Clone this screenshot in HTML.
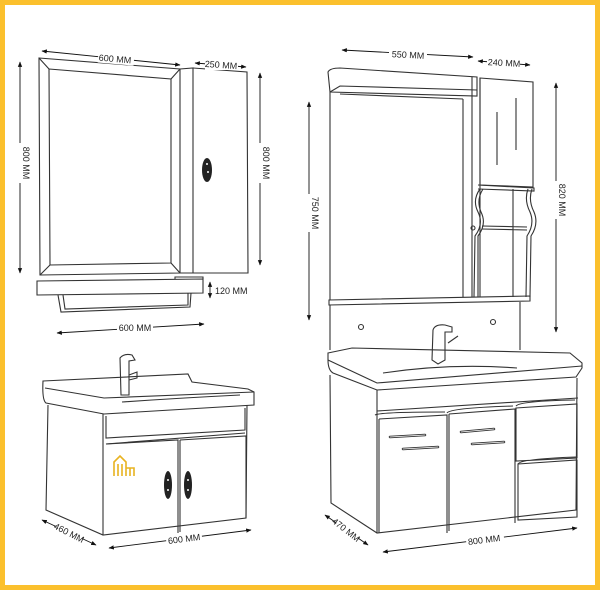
<!DOCTYPE html>
<html><head><meta charset="utf-8"><style>
html,body{margin:0;padding:0;background:#fff;}
svg{display:block;}
text{font-family:"Liberation Sans",sans-serif;font-size:9px;fill:#222;}
</style></head><body>
<svg width="600" height="590" viewBox="0 0 600 590" xmlns="http://www.w3.org/2000/svg">
<defs>
<marker id="a" viewBox="0 0 10 10" refX="9" refY="5" markerWidth="6" markerHeight="6" orient="auto-start-reverse"><path d="M0,1 L10,5 L0,9z" fill="#111"/></marker>
</defs>
<rect x="0" y="0" width="600" height="590" fill="#fbc02d"/>
<rect x="5" y="5" width="590" height="580" fill="#fff"/>
<g fill="none" stroke="#333" stroke-width="1.1">
<path d="M39,58 L180,69 L180,273 L40,275 Z"/>
<path d="M49,69 L171,79 L171,263 L50,265 Z"/>
<path d="M39,58 L49,69 M180,69 L171,79 M40,275 L50,265 M180,273 L171,263"/>
<path d="M180,69 L193,68 L193,273 L180,273"/>
<path d="M193,68 L247,72 L248,273 L193,273"/>
<path d="M37,281 L203,279 L203,293 L37,295 Z"/>
<path d="M175,279 L175,277 L203,277 L203,279"/>
<path d="M58,295 L61,312 L190,307 L191,293 M63,295 L65,309 L188,305 L188,293"/>
<path d="M328,72 Q330,68 340,68 L477,77 L477,96 L330,92 Z"/>
<path d="M330,92 L340,86 L477,90"/>
<path d="M330,92 L330,300 M463,99 L463,297 M340,94 L463,99"/>
<path d="M472,77 L472,297 M480,78 L480,297"/>
<path d="M480,78 L533,82 L533,187 L480,185 Z"/>
<path d="M478,185 L534,188 L534,191 L478,189"/>
<path d="M497,112 L497,165 M516,98 L516,150"/>
<path d="M480,189 Q472,200 478,212 Q484,224 475,236 L474,297 M483,189 Q476,200 481,212 Q487,224 478,236 L478,297"/>
<path d="M528,189 Q524,200 530,212 Q535,224 527,236 L526,297 M532,189 Q528,200 534,212 Q539,224 531,236 L530,297"/>
<path d="M513,189 L513,297 M482,226 L527,227 M482,229 L527,230"/>
<circle cx="473" cy="228" r="2"/>
<path d="M329,300 L530,296 L530,301 L329,305 Z"/>
<path d="M330,305 L330,350 M520,302 L520,350"/>
<circle cx="361" cy="327" r="2.5"/><circle cx="493" cy="322" r="2.5"/>
<path d="M433,330 Q435,324 445,325 L452,327 L452,332 L445,332 L445,360 L438,364 L432,360 Z M448,343 L458,336"/>
<path d="M328,353 L352,348 L570,353 L582,363 L582,368 L576,377 L377,390 L333,373 Q328,370 328,360 Z"/>
<path d="M328,360 L377,383 L582,366"/>
<path d="M383,373 Q450,363 517,368"/>
<path d="M330,375 L331,503 L377,533 L576,510 L577,378"/>
<path d="M377,390 L377,533"/>
<path d="M377,411 L578,398"/>
<path d="M379,419 L447,415 L447,533 M379,419 L379,533 M375,415 Q380,412 445,412"/>
<path d="M449,414 L515,409 L515,523 M449,414 L449,531 M447,413 Q450,408 513,406"/>
<path d="M516,408 L577,404 L577,458 L516,461 Z M518,464 L577,460 L577,517 L518,520 Z M516,406 Q520,401 575,400 M518,464 Q520,459 576,457"/>
<path d="M390,437 L425,435 M403,449 L438,447 M461,432 L494,429 M472,444 L504,442" stroke-width="2.5" stroke-linecap="round"/>
<path d="M390,437 L425,435 M403,449 L438,447 M461,432 L494,429 M472,444 L504,442" stroke="#fff" stroke-width="0.8" stroke-linecap="round"/>
<path d="M43,381 L188,374 L192,382 L248,389 L254,392 L254,405 L104,414 L46,403 Q42,400 43,381 Z"/>
<path d="M45,388 L104,398 L254,392"/>
<path d="M122,402 Q180,398 240,395"/>
<path d="M48,405 L46,510 L103,535 L246,518 L247,405"/>
<path d="M103,414 L103,535"/>
<path d="M106,416 L106,438 L245,430 L245,408 M106,444 L245,433"/>
<path d="M106,444 L178,440 L178,533 M178,440 L178,533 M180,440 L246,436 L246,518 M180,440 L180,532"/>
<path d="M120,358 Q124,353 132,355 L135,360 L129,361 L129,395 L121,395 Z M129,375 L137,372 L137,378 L129,380"/>
</g>
<g fill="#222">
<ellipse cx="207" cy="170" rx="5" ry="12"/>
<ellipse cx="168" cy="485" rx="4" ry="14"/>
<ellipse cx="188" cy="485" rx="4" ry="14"/>
</g>
<g fill="#fff"><circle cx="207" cy="164" r="1"/><circle cx="208" cy="172" r="1"/><circle cx="168" cy="480" r="1"/><circle cx="168" cy="490" r="1"/><circle cx="188" cy="480" r="1"/><circle cx="188" cy="490" r="1"/></g>
<g fill="none" stroke="#e8b321" stroke-width="1.6"><path d="M114,476 L114,462 L120,456 L126,462 L126,476 M118,476 L118,464 M122,476 L122,464 M126,468 L134,468 L134,476 M130,468 L130,476"/></g>
<g stroke="#111" stroke-width="0.9" fill="none" marker-start="url(#a)" marker-end="url(#a)">
<path d="M42,51 L180,65"/>
<path d="M195,63 L246,67"/>
<path d="M20,62 L20,273"/>
<path d="M260,73 L260,265"/>
<path d="M210,282 L210,298"/>
<path d="M57,333 L204,324"/>
<path d="M342,50 L473,57"/>
<path d="M478,61 L530,65"/>
<path d="M309,102 L309,320"/>
<path d="M556,83 L556,332"/>
<path d="M325,515 L368,545"/>
<path d="M383,552 L577,528"/>
<path d="M42,520 L96,545"/>
<path d="M109,548 L251,530"/>
</g>
<g>
<rect x="98" y="53" width="36" height="11" fill="#fff" transform="rotate(5 115 59)"/>
<text x="115" y="62" text-anchor="middle" transform="rotate(5 115 59)">600 MM</text>
<rect x="205" y="60" width="33" height="10" fill="#fff"/>
<text x="221" y="68" text-anchor="middle" transform="rotate(4 221 65)">250 MM</text>
<rect x="14" y="143" width="12" height="40" fill="#fff"/>
<text x="0" y="0" text-anchor="middle" transform="translate(23,163) rotate(90)">800 MM</text>
<rect x="254" y="143" width="12" height="40" fill="#fff"/>
<text x="0" y="0" text-anchor="middle" transform="translate(263,163) rotate(90)">800 MM</text>
<text x="215" y="294">120 MM</text>
<rect x="117" y="322" width="36" height="11" fill="#fff"/>
<text x="135" y="331" text-anchor="middle">600 MM</text>
<rect x="389" y="49" width="38" height="11" fill="#fff"/>
<text x="408" y="58" text-anchor="middle" transform="rotate(3 408 55)">550 MM</text>
<rect x="487" y="57" width="33" height="10" fill="#fff"/>
<text x="504" y="66" text-anchor="middle" transform="rotate(3 504 63)">240 MM</text>
<rect x="303" y="194" width="12" height="38" fill="#fff"/>
<text x="0" y="0" text-anchor="middle" transform="translate(312,213) rotate(90)">750 MM</text>
<rect x="550" y="181" width="12" height="38" fill="#fff"/>
<text x="0" y="0" text-anchor="middle" transform="translate(559,200) rotate(90)">820 MM</text>
<rect x="334" y="525" width="26" height="10" fill="#fff" transform="rotate(38 346 530)"/>
<text x="346" y="533" text-anchor="middle" transform="rotate(38 346 530)">470 MM</text>
<rect x="466" y="534" width="38" height="11" fill="#fff" transform="rotate(-7 484 539)"/>
<text x="484" y="543" text-anchor="middle" transform="rotate(-7 484 539)">800 MM</text>
<rect x="55" y="528" width="28" height="10" fill="#fff" transform="rotate(27 69 533)"/>
<text x="69" y="536" text-anchor="middle" transform="rotate(27 69 533)">460 MM</text>
<rect x="166" y="533" width="36" height="11" fill="#fff" transform="rotate(-7 184 538)"/>
<text x="184" y="542" text-anchor="middle" transform="rotate(-7 184 538)">600 MM</text>
</g>
</svg>
</body></html>
